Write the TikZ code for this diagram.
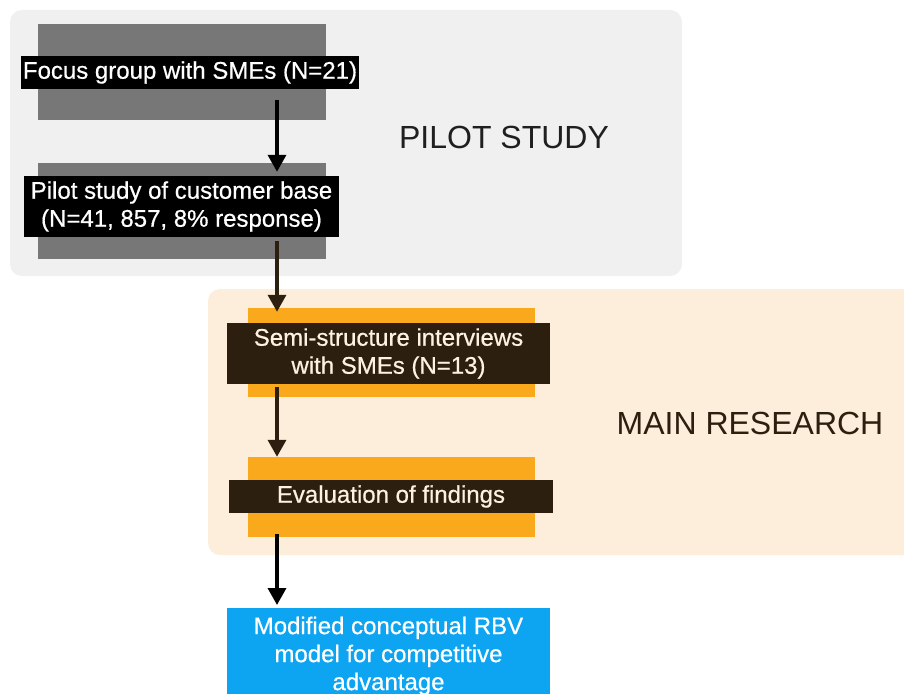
\documentclass[tikz,border=0pt]{standalone}
\usepackage{fontspec}
\setmainfont{Liberation Sans}
\newfontfamily\boxfont{Liberation Sans}[UprightFeatures={FakeBold=0.6}]
\usetikzlibrary{arrows.meta}
\definecolor{panelgray}{HTML}{F0F0F0}
\definecolor{bargray}{HTML}{777777}
\definecolor{peach}{HTML}{FDEEDC}
\definecolor{amber}{HTML}{FAA81C}
\definecolor{darkbrown}{HTML}{2D1F0F}
\definecolor{skyblue}{HTML}{0DA4F2}
\definecolor{cream}{HTML}{FDF1E2}
\tikzset{
  panel/.style={rounded corners=12pt, draw=none},
  bar/.style={draw=none, inner sep=0pt},
  label/.style={inner sep=0pt, align=center, font=\boxfont\fontsize{24}{28}\selectfont},
  title/.style={inner sep=0pt, font=\fontsize{32}{36}\selectfont},
  flow/.style={line width=3.5pt, -{Triangle[width=18pt,length=17pt]}},
}
\begin{document}
\begin{tikzpicture}[x=1pt,y=-1pt]
\useasboundingbox[fill=white] (0,0) rectangle (904,693);

% background panels for the two phases
\fill[panelgray, panel] (10,10) rectangle (682,276);
\fill[peach, panel] (208,289) rectangle (930,555);

% phase titles
\node[title, text=black!88] (pilot) at (504,137) {PILOT STUDY};
\node[title, text=darkbrown] (main) at (750,423) {MAIN RESEARCH};

% pilot study steps
\node[bar, fill=bargray, minimum width=288pt, minimum height=96pt] (bar1) at (182,72) {};
\node[label, fill=black, text=white, minimum width=338pt, minimum height=33pt] (focus) at (190,72.5) {Focus group with SMEs (N=21)};

\node[bar, fill=bargray, minimum width=288pt, minimum height=96pt] (bar2) at (182,211) {};
\node[label, fill=black, text=white, minimum width=315pt, minimum height=61pt] (survey) at (181.5,206.5) {Pilot study of customer base\\(N=41, 857, 8\% response)};

% main research steps
\node[bar, fill=amber, minimum width=287pt, minimum height=89pt] (bar3) at (391.5,352.5) {};
\node[label, fill=darkbrown, text=cream, minimum width=323pt, minimum height=61pt] (interviews) at (388.5,353.5) {Semi-structure interviews\\with SMEs (N=13)};

\node[bar, fill=amber, minimum width=287pt, minimum height=80pt] (bar4) at (391.5,497) {};
\node[label, fill=darkbrown, text=cream, minimum width=324pt, minimum height=33pt] (evaluation) at (391,496.5) {Evaluation of findings};

% outcome
\node[label, fill=skyblue, text=white, minimum width=323pt, inner ysep=8.5pt, anchor=north] (model) at (388.5,608) {Modified conceptual RBV\\model for competitive\\advantage};

% flow arrows along one vertical line
\coordinate (ax) at (277,0);
\draw[flow, black, shorten <=11pt, shorten >=4pt] (focus.south -| ax) -- (survey.north -| ax);
\draw[flow, darkbrown, shorten <=4pt, shorten >=11pt] (survey.south -| ax) -- (interviews.north -| ax);
\draw[flow, darkbrown, shorten <=3pt] (interviews.south -| ax) -- (bar4.north -| ax);
\draw[flow, black, shorten <=21pt, shorten >=3pt] (evaluation.south -| ax) -- (model.north -| ax);
\end{tikzpicture}
\end{document}
